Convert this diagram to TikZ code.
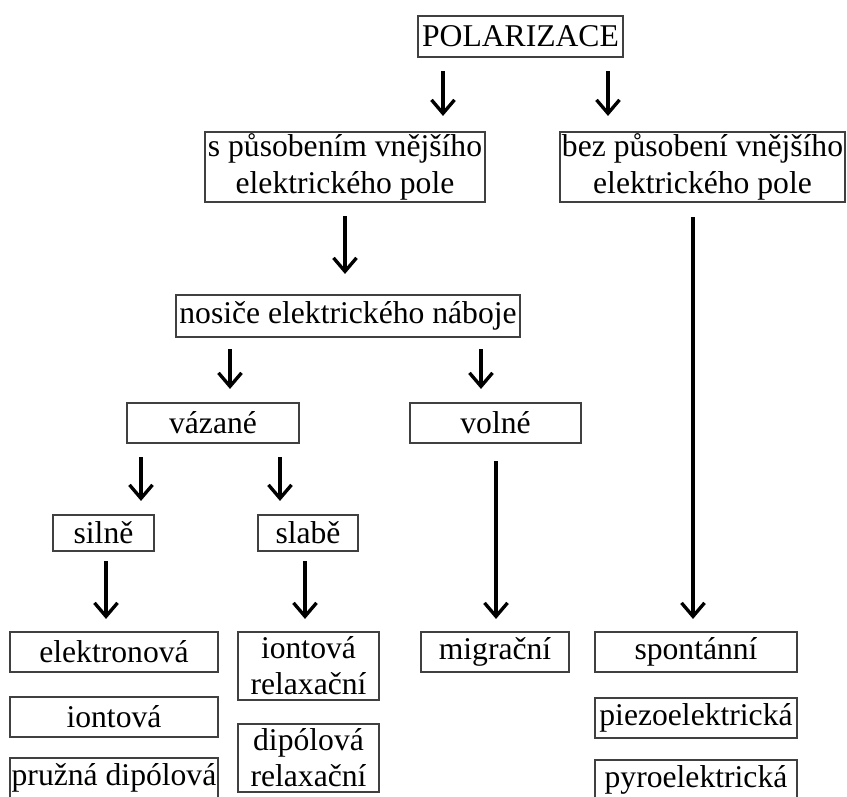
\documentclass[tikz,border=0pt]{standalone}
\usepackage{fontspec}
\setmainfont{Liberation Serif}
\usetikzlibrary{arrows.meta}

\begin{document}
\begin{tikzpicture}[
  x=0.2mm, y=-0.2mm,
  font=\fontsize{18}{20.6}\selectfont,
  box/.style={draw=black!75, line width=1.2pt, inner sep=1pt, align=center, minimum height=8mm},
  tall/.style={box, minimum height=14mm},
  arr/.style={-{Straight Barb[length=2.7mm,width=4.6mm]}, line width=1.9pt, shorten <=2.6mm, shorten >=2.6mm}]
  \clip (0,0) rectangle (847,796);
  % --- top ---
  \node[box, minimum width=4.1cm, minimum height=8.2mm] (pol) at (520.5,36.5) {POLARIZACE};
  \node[tall, minimum width=5.6cm]  (pus) at (345,167)   {s působením vnějšího\\elektrického pole};
  \node[tall, minimum width=5.62cm] (bez) at (702.5,167) {bez působení vnějšího\\elektrického pole};
  \node[box, minimum width=6.88cm, minimum height=8.4mm] (nos) at (348,316) {nosiče elektrického náboje};
  % --- middle ---
  \node[box, minimum width=3.44cm] (vaz) at (213,423)   {vázané};
  \node[box, minimum width=3.42cm] (vol) at (495.5,423) {volné};
  \node[box, minimum width=2.02cm, minimum height=7.2mm] (sil) at (103.5,533) {silně};
  \node[box, minimum width=2.0cm, minimum height=7.2mm]  (sla) at (308,533)   {slabě};
  % --- bottom row ---
  \node[box, minimum width=4.16cm] (ele) at (114,652) {elektronová};
  \node[box, minimum width=4.16cm] (ion) at (114,717) {iontová};
  \node[box, minimum width=4.16cm] (pru) at (114,778) {pružná dipólová};
  \node[box, minimum width=2.82cm, minimum height=13.6mm] (irl) at (308.5,666) {iontová\\relaxační};
  \node[box, minimum width=2.82cm, minimum height=13.6mm] (drl) at (308.5,758) {dipólová\\relaxační};
  \node[box, minimum width=2.96cm] (mig) at (495,652) {migrační};
  \node[box, minimum width=4.04cm] (spo) at (696,652) {spontánní};
  \node[box, minimum width=4.04cm] (pie) at (696,718) {piezoelektrická};
  \node[box, minimum width=4.04cm] (pyr) at (696,780) {pyroelektrická};
  % arrow columns
  \coordinate (ka) at (443,0);
  \coordinate (kb) at (608,0);
  \coordinate (kc) at (345,0);
  \coordinate (kd) at (230,0);
  \coordinate (ke) at (481,0);
  \coordinate (kf) at (141,0);
  \coordinate (kg) at (280,0);
  \coordinate (kh) at (106,0);
  \coordinate (ki) at (305,0);
  \coordinate (kj) at (496,0);
  \coordinate (kk) at (693,0);
  \draw[arr, shorten >=3mm] (pol.south -| ka) -- (pus.north -| ka);
  \draw[arr, shorten >=3mm] (pol.south -| kb) -- (bez.north -| kb);
  \draw[arr, shorten >=4mm] (pus.south -| kc) -- (nos.north -| kc);
  \draw[arr, shorten <=2.2mm, shorten >=2.6mm] (nos.south -| kd) -- (vaz.north -| kd);
  \draw[arr, shorten <=2.2mm, shorten >=2.6mm] (nos.south -| ke) -- (vol.north -| ke);
  \draw[arr] (vaz.south -| kf) -- (sil.north -| kf);
  \draw[arr] (vaz.south -| kg) -- (sla.north -| kg);
  \draw[arr, shorten <=1.8mm, shorten >=2.4mm] (sil.south -| kh) -- (ele.north -| kh);
  \draw[arr, shorten <=1.8mm, shorten >=2.4mm] (sla.south -| ki) -- (irl.north -| ki);
  \draw[arr, shorten <=3.4mm, shorten >=2.4mm] (vol.south -| kj) -- (mig.north -| kj);
  \draw[arr, shorten <=2.8mm, shorten >=2.4mm] (bez.south -| kk) -- (spo.north -| kk);
\end{tikzpicture}
\end{document}
